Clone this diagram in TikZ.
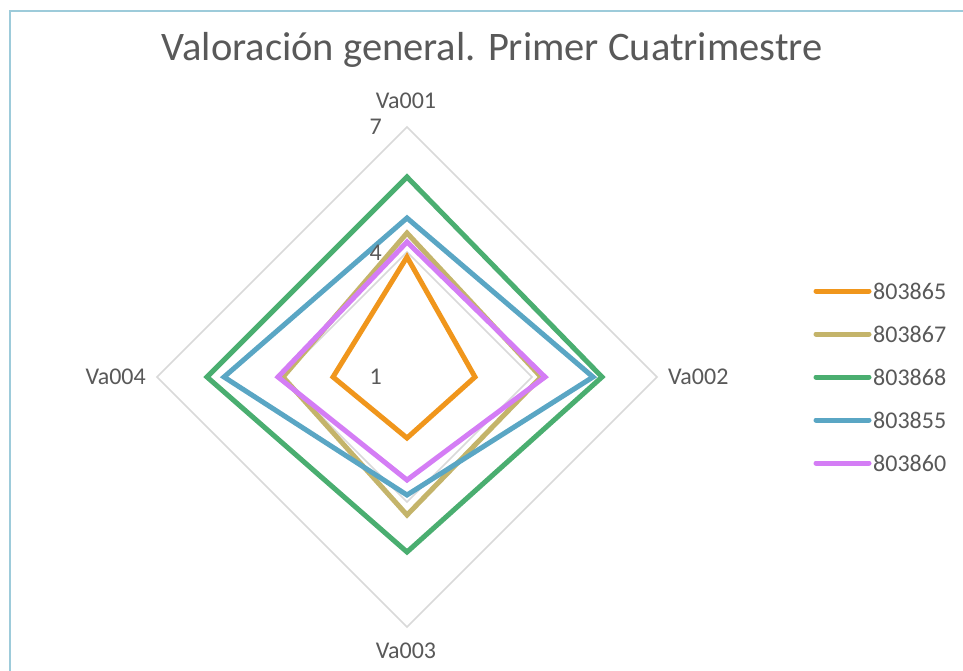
\documentclass[tikz,border=0pt]{standalone}
\usepackage{fontspec}
\setmainfont{Carlito}
\definecolor{txt}{HTML}{595959}
\definecolor{grid}{HTML}{D9D9D9}
\definecolor{frame}{HTML}{9DCBDA}
\definecolor{sA}{HTML}{F0961C}
\definecolor{sB}{HTML}{C4B46A}
\definecolor{sC}{HTML}{4AAE70}
\definecolor{sD}{HTML}{5AA6C4}
\definecolor{sE}{HTML}{D47DF5}
\tikzset{
  series/.style={line width=5pt, line join=miter},
  gridline/.style={draw=grid, line width=1.5pt},
  axlab/.style={text=txt, font=\fontsize{24}{26}\selectfont, inner sep=0pt},
  vallab/.style={text=txt, font=\fontsize{24}{26}\selectfont, inner sep=0pt, anchor=east},
  leglab/.style={text=txt, font=\fontsize{24}{26}\selectfont, inner sep=0pt, anchor=west},
  legline/.style={line width=5pt, line cap=round}
}
\begin{document}
\begin{tikzpicture}[x=1pt,y=-1pt]
\useasboundingbox (0,0) rectangle (963,671);
\fill[white] (0,0) rectangle (963,671);
% frame
\draw[frame, line width=2.5pt] (10,675) -- (10,11) -- (970,11);
% title
\node[text=txt, font=\fontsize{40.5}{42}\selectfont, inner sep=0pt] (title) at (492,50) {Valoración general. Primer Cuatrimestre};
% grid
\coordinate (c) at (407,377);
\draw[gridline] (407,127) -- (657,377) -- (407,627) -- (157,377) -- cycle;
\draw[gridline] (407,252) -- (532,377) -- (407,502) -- (282,377) -- cycle;
% series
\draw[series, sA] (407,257) -- (475,377) -- (407,438) -- (333,377) -- cycle;
\draw[series, sB] (407,233) -- (541,377) -- (407,515) -- (283,377) -- cycle;
\draw[series, sC] (407,177) -- (602,377) -- (407,552) -- (207,377) -- cycle;
\draw[series, sD] (407,218) -- (593,377) -- (407,495) -- (224,377) -- cycle;
\draw[series, sE] (407,242) -- (545,377) -- (407,480) -- (278,377) -- cycle;
% value labels
\node[vallab] (v7) at (382,127) {7};
\node[vallab] (v4) at (382,253) {4};
\node[vallab] (v1) at (382,377) {1};
% axis labels
\node[axlab] (a1) at (406,101) {Va001};
\node[axlab, anchor=west] (a2) at (668,377) {Va002};
\node[axlab] (a3) at (406,651) {Va003};
\node[axlab, anchor=east] (a4) at (146,377) {Va004};
% legend
\foreach \y/\c/\t [count=\i] in {291/sA/803865, 334/sB/803867, 377/sC/803868, 420/sD/803855, 463/sE/803860}{
  \coordinate (l\i a) at (816,\y);
  \coordinate (l\i b) at (869,\y);
  \draw[legline, \c] (l\i a) -- (l\i b);
  \node[leglab] (lt\i) at (873,\y) {\t};
}
\end{tikzpicture}
\end{document}
